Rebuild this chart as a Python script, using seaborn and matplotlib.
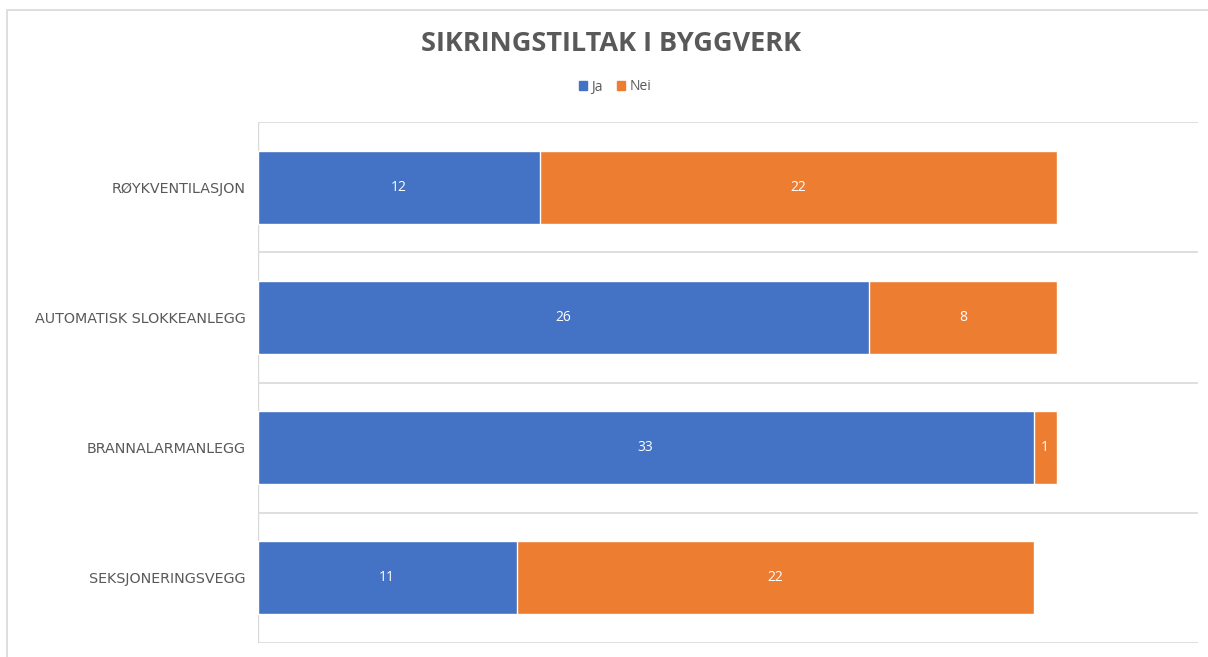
import pandas as pd
import matplotlib.pyplot as plt
import seaborn as sns
from matplotlib.patches import Rectangle, Patch

# Data
categories = ['RØYKVENTILASJON', 'AUTOMATISK SLOKKEANLEGG', 'BRANNALARMANLEGG', 'SEKSJONERINGSVEGG']
ja = [12, 26, 33, 11]
nei = [22, 8, 1, 22]
series_names = ['Ja', 'Nei']

BLUE = '#4472C4'
ORANGE = '#ED7D31'
GRID = '#D9D9D9'
TEXT = '#595959'

df = pd.DataFrame({'Kategori': categories, 'Ja': ja, 'Nei': nei})
df['Total'] = df['Ja'] + df['Nei']

sns.set_theme(style='white')
plt.rcParams['font.family'] = ['Open Sans', 'DejaVu Sans']

fig = plt.figure(figsize=(12.08, 6.57), dpi=100)
ax = fig.add_axes([258 / 1208, 1 - 643 / 657, (1198 - 258) / 1208, (643 - 122) / 657])

# stacked: total in orange underneath, Ja in blue on top
sns.barplot(data=df, y='Kategori', x='Total', color=ORANGE, orient='h', width=0.56,
            saturation=1, ax=ax)
sns.barplot(data=df, y='Kategori', x='Ja', color=BLUE, orient='h', width=0.56,
            saturation=1, ax=ax)

for i, (a, b) in enumerate(zip(ja, nei)):
    ax.text(a / 2, i, str(a), color='white', ha='center', va='center', fontsize=10)
    ax.text(a + b / 2, i, str(b), color='white', ha='center', va='center', fontsize=10)

ax.set_xlim(0, 40)
ax.set_ylim(len(categories) - 0.5, -0.5)
for y in [i - 0.5 for i in range(len(categories) + 1)]:
    ax.axhline(y, color=GRID, lw=1.2, zorder=0)

for s in ax.spines.values():
    s.set_visible(False)
ax.axvline(0, color=GRID, lw=1.0, zorder=0)
ax.set_xticks([])
ax.set_xlabel('')
ax.set_ylabel('')
ax.tick_params(axis='y', length=0, pad=9, labelcolor=TEXT)
for lbl in ax.get_yticklabels():
    lbl.set_family('DejaVu Sans')
    lbl.set_fontsize(10.3)

# chart border
fig.patches.append(Rectangle((7 / 1208, -0.05), 1.1, 1 - 10 / 657 + 0.05, transform=fig.transFigure,
                             fill=False, edgecolor=GRID, lw=1.2))

fig.text(0.506, 1 - 44 / 657, 'SIKRINGSTILTAK I BYGGVERK', ha='center', va='center',
         fontsize=19.5, fontweight='bold', color=TEXT)

handles = [Patch(color=BLUE, label=series_names[0]), Patch(color=ORANGE, label=series_names[1])]
fig.legend(handles=handles, loc='center', bbox_to_anchor=(0.509, 1 - 87 / 657), ncol=2,
           frameon=False, fontsize=10, handlelength=0.6, handleheight=0.6, handletextpad=0.3,
           columnspacing=1.0, labelcolor=TEXT)

fig.savefig('out.png', dpi=100)
